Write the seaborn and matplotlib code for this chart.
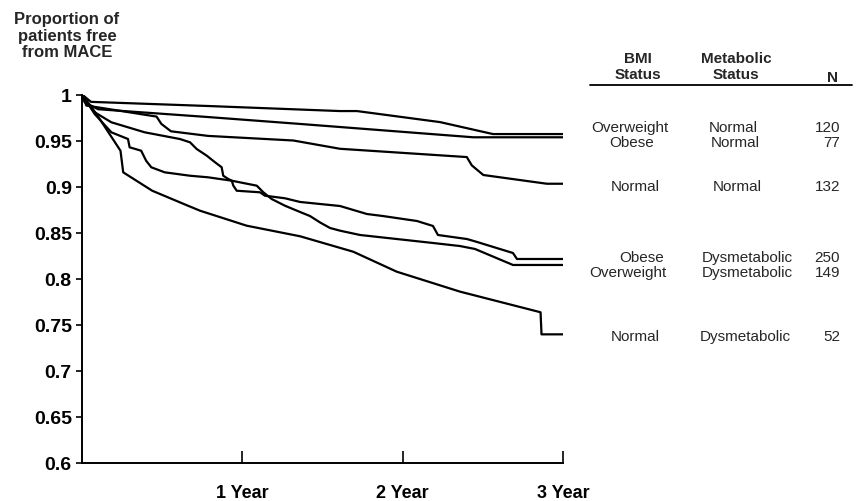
import seaborn as sns
import matplotlib.pyplot as plt
from matplotlib.lines import Line2D
import pandas as pd

# survival curves, x in years, y = proportion free from MACE
ow_norm_x = [0, 0.056, 0.786, 1.609, 1.715, 2.233, 2.563, 3.0]
ow_norm_y = [1.0, 0.992, 0.9875, 0.982, 0.982, 0.970, 0.957, 0.957]

ob_norm_x = [0, 0.017, 0.10, 0.786, 1.36, 2.44, 3.0]
ob_norm_y = [1.0, 0.9915, 0.984, 0.9755, 0.968, 0.9535, 0.9535]

n_norm_x = [0, 0.027, 0.465, 0.495, 0.555, 0.786, 1.318, 1.609, 2.40, 2.431, 2.503, 2.899, 3.0]
n_norm_y = [1.0, 0.988, 0.976, 0.968, 0.960, 0.955, 0.950, 0.941, 0.932, 0.923, 0.9125, 0.903, 0.903]

ob_dys_x = [0, 0.079, 0.183, 0.391, 0.611, 0.674, 0.715, 0.778, 0.830, 0.871, 0.881, 0.912,
            0.934, 0.944, 0.965, 1.110, 1.141, 1.266, 1.360, 1.484, 1.609, 1.777, 1.877,
            2.089, 2.189, 2.220, 2.401, 2.464, 2.688, 2.713, 3.0]
ob_dys_y = [1.0, 0.9807, 0.9698, 0.9589, 0.9516, 0.9480, 0.9408, 0.9335, 0.9263, 0.9209, 0.9117,
            0.9082, 0.9063, 0.9009, 0.8954, 0.8937, 0.8900, 0.8872, 0.8832, 0.8810, 0.8788,
            0.8701, 0.8679, 0.8625, 0.8571, 0.8473, 0.8429, 0.8397, 0.8277, 0.8212, 0.8212]

ow_dys_x = [0, 0.079, 0.183, 0.287, 0.297, 0.369, 0.400, 0.432, 0.516, 0.674, 0.786, 0.934,
            1.090, 1.131, 1.183, 1.266, 1.360, 1.422, 1.484, 1.547, 1.609, 1.734, 2.189,
            2.357, 2.451, 2.688, 3.0]
ow_dys_y = [1.0, 0.9788, 0.9589, 0.9516, 0.9426, 0.9389, 0.9280, 0.9209, 0.9154, 0.9117, 0.9100,
            0.9063, 0.9009, 0.8937, 0.8864, 0.8791, 0.8723, 0.8679, 0.8610, 0.8549, 0.8520,
            0.8473, 0.8386, 0.8353, 0.8321, 0.8147, 0.8147]

n_dys_x = [0, 0.090, 0.240, 0.257, 0.438, 0.661, 0.736, 1.027, 1.360, 1.692, 1.963, 2.358,
           2.860, 2.866, 3.0]
n_dys_y = [1.0, 0.9788, 0.9389, 0.9154, 0.8954, 0.8791, 0.8737, 0.8574, 0.8459, 0.8291,
           0.8074, 0.7857, 0.7633, 0.7393, 0.7393]

bmi_status = ['Overweight', 'Obese', 'Normal', 'Obese', 'Overweight', 'Normal']
metab_status = ['Normal', 'Normal', 'Normal', 'Dysmetabolic', 'Dysmetabolic', 'Dysmetabolic']
n_patients = ['120', '77', '132', '250', '149', '52']

y_ticks = [0.6, 0.65, 0.7, 0.75, 0.8, 0.85, 0.9, 0.95, 1.0]
y_labels = ['0.6', '0.65', '0.7', '0.75', '0.8', '0.85', '0.9', '0.95', '1']
x_ticks = [1, 2, 3]
x_labels = ['1 Year', '2 Year', '3 Year']

curves = [
    ('OW-N', ow_norm_x, ow_norm_y),
    ('OB-N', ob_norm_x, ob_norm_y),
    ('N-N', n_norm_x, n_norm_y),
    ('OB-D', ob_dys_x, ob_dys_y),
    ('OW-D', ow_dys_x, ow_dys_y),
    ('N-D', n_dys_x, n_dys_y),
]
rows = []
for name, xs, ys in curves:
    for i, (xv, yv) in enumerate(zip(xs, ys)):
        rows.append({'group': name, 'order': i, 'years': xv, 'prop': yv})
df = pd.DataFrame(rows)

sns.set_style('ticks')
plt.rcParams['font.family'] = ['Liberation Sans', 'DejaVu Sans']

W, H = 857, 502
fig = plt.figure(figsize=(W / 100, H / 100), dpi=100)
ax = fig.add_axes([82 / W, 1 - 463.5 / H, 481 / W, 368 / H])

sns.lineplot(data=df, x='years', y='prop', hue='group', units='group', estimator=None,
             sort=False, palette=['black'] * 6, linewidth=1.6, legend=False, ax=ax)

ax.set_xlim(0, 3)
ax.set_ylim(0.6, 1.0)
ax.set_xlabel('')
ax.set_ylabel('')
sns.despine(ax=ax)
for s in ['left', 'bottom']:
    ax.spines[s].set_linewidth(1.4)
    ax.spines[s].set_color('black')

ax.set_yticks(y_ticks)
ax.set_yticklabels(y_labels, fontsize=14, fontweight='bold')
ax.set_xticks(x_ticks)
ax.set_xticklabels(x_labels, fontsize=13, fontweight='bold')
ax.tick_params(axis='y', direction='out', length=4.3, width=1.2, pad=3, colors='black')
ax.tick_params(axis='x', direction='in', length=8.6, width=1.2, pad=15.5, colors='black')


def px(x, y):
    return x / W, 1 - y / H


fig.text(*px(67, 36), 'Proportion of\npatients free\nfrom MACE', ha='center', va='center',
         fontsize=12, fontweight='bold', linespacing=1.15)

# table header
fig.text(*px(638, 59), 'BMI', ha='center', va='center', fontsize=11, fontweight='bold')
fig.text(*px(638, 75), 'Status', ha='center', va='center', fontsize=11, fontweight='bold')
fig.text(*px(736, 59), 'Metabolic', ha='center', va='center', fontsize=11, fontweight='bold')
fig.text(*px(736, 75), 'Status', ha='center', va='center', fontsize=11, fontweight='bold')
fig.text(*px(832, 78), 'N', ha='center', va='center', fontsize=11, fontweight='bold')
fig.add_artist(Line2D([590 / W, 852 / W], [1 - 86 / H, 1 - 86 / H], color='black', lw=1.3))

# table rows
row_y = [128, 143, 187, 258, 273, 337]
bmi_x = [630, 632, 635, 642, 628, 635]
met_x = [733, 735, 737, 747, 747, 745]
for i in range(6):
    fig.text(*px(bmi_x[i], row_y[i]), bmi_status[i], ha='center', va='center', fontsize=11)
    fig.text(*px(met_x[i], row_y[i]), metab_status[i], ha='center', va='center', fontsize=11)
    fig.text(*px(840, row_y[i]), n_patients[i], ha='right', va='center', fontsize=11)

fig.savefig('out.png', dpi=100, facecolor='white')
